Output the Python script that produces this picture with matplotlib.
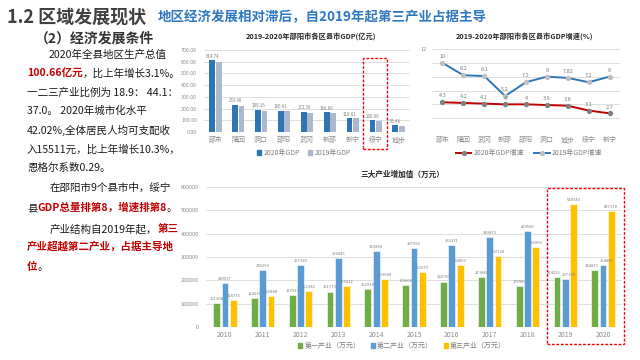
import matplotlib
matplotlib.use("Agg")
import matplotlib.pyplot as plt
from matplotlib.patches import Rectangle, Patch
from matplotlib.lines import Line2D

plt.rcParams['font.family'] = ['Noto Sans CJK SC', 'DejaVu Sans']

# ---------------- data ----------------
gdp_cats = ['邵东', '隆回', '洞口', '邵阳', '武冈', '新邵', '新宁', '绥宁', '城步']
gdp_2020 = [614.74, 233.98, 189.16, 180.61, 172.39, 166.86, 118.61, 100.66, 56.46]
gdp_2019 = [600, 222, 176, 178, 158, 160, 116, 96, 53]
gdp_ticks = [0, 100, 200, 300, 400, 500, 600, 700]

gr_cats = ['邵东', '隆回', '武冈', '新邵', '邵阳', '洞口', '城步', '绥宁', '新宁']
gr_2020 = [4.3, 4.2, 4.1, 4, 4, 3.9, 3.8, 3.1, 2.7]
gr_2019 = [10, 8.2, 8.1, 5.2, 7.2, 8, 7.82, 7.2, 8]
gr_ticks = [0, 2, 4, 6, 8, 10, 12]

years = ['2010', '2011', '2012', '2013', '2014', '2015', '2016', '2017', '2018', '2019', '2020']
ind1 = [101308, 124915, 137917, 151773, 162938, 179608, 194790, 213849, 176983, 214526, 244819]
ind2 = [189037, 245290, 267383, 296445, 323800, 337352, 352171, 383871, 409586, 207178, 264806]
ind3 = [114735, 130888, 152382, 175412, 203588, 233977, 264803, 302728, 343956, 528743, 497378]
ind_ticks = [0, 100000, 200000, 300000, 400000, 500000, 600000]

W, H = 640, 360
fig = plt.figure(figsize=(6.4, 3.6), dpi=100)
fig.patch.set_facecolor('white')


def rect(x0, y0, x1, y1):
    return [x0 / W, 1 - y1 / H, (x1 - x0) / W, (y1 - y0) / H]


def fx(x):
    return x / W


def fy(y):
    return 1 - y / H


GRID = '#d9d9d9'
TICK = '#8c8c8c'
LBL = '#7f7f7f'


def style_axes(ax):
    for s in ax.spines.values():
        s.set_visible(False)
    ax.tick_params(length=0, colors=TICK)
    ax.yaxis.grid(True, color=GRID, lw=0.6)
    ax.set_axisbelow(True)


# ---------------- chart 1: GDP bars ----------------
ax1 = fig.add_axes(rect(204, 50, 410, 132))
style_axes(ax1)
x = range(len(gdp_cats))
ax1.bar([i - 0.14 for i in x], gdp_2020, width=0.25, color='#2E75B6')
ax1.bar([i + 0.14 for i in x], gdp_2019, width=0.25, color='#ADB9CA')
for i, v in enumerate(gdp_2020):
    ax1.text(i - 0.14, v + 12, f'{v:.2f}', ha='center', va='bottom', fontsize=3.2, color=LBL)
ax1.set_xlim(-0.5, len(gdp_cats) - 0.5)
ax1.set_ylim(0, 700)
ax1.set_yticks(gdp_ticks)
ax1.set_yticklabels([f'{t:.2f}' for t in gdp_ticks], fontsize=3.8)
ax1.set_xticks(list(x))
ax1.set_xticklabels(gdp_cats, fontsize=5)
ax1.tick_params(axis='x', pad=3)
ax1.tick_params(axis='y', pad=5)
fig.text(fx(311), fy(36), '2019-2020年邵阳市各区县市GDP(亿元)', ha='center', va='center',
         fontsize=5.2, fontweight='bold', color='#262626')
fig.legend(handles=[Patch(color='#2E75B6', label='2020年GDP'), Patch(color='#ADB9CA', label='2019年GDP')],
           loc='center', bbox_to_anchor=(fx(304), fy(153)), bbox_transform=fig.transFigure,
           ncol=2, frameon=False, fontsize=5, handlelength=0.6, handleheight=0.6,
           handletextpad=0.3, columnspacing=1.2, labelcolor=LBL)

# ---------------- chart 2: growth lines ----------------
ax2 = fig.add_axes(rect(432, 49, 620, 132))
style_axes(ax2)
xs = list(range(len(gr_cats)))
ax2.plot(xs, gr_2020, color='#C00000', lw=1.4, marker='o', markersize=2.8,
         markerfacecolor='#7f7f7f', markeredgecolor='#7f7f7f', zorder=3)
ax2.plot(xs, gr_2019, color='#2E75B6', lw=1.4, marker='o', markersize=2.8,
         markerfacecolor='#bfbfbf', markeredgecolor='#bfbfbf', zorder=3)
for i, v in enumerate(gr_2020):
    ax2.text(i, v + 0.55, f'{v:g}', ha='center', va='bottom', fontsize=4, color=LBL)
for i, v in enumerate(gr_2019):
    ax2.text(i, v + 0.55, f'{v:g}', ha='center', va='bottom', fontsize=4, color=LBL)
ax2.set_xlim(-0.5, len(gr_cats) - 0.5)
ax2.set_ylim(0, 12)
ax2.set_yticks(gr_ticks)
ax2.set_yticklabels(['' if t != 12 else '12' for t in gr_ticks], fontsize=4)
ax2.set_xticks(xs)
ax2.set_xticklabels(gr_cats, fontsize=5)
ax2.tick_params(axis='x', pad=3)
fig.text(fx(524), fy(36), '2019-2020年邵阳市各区县市GDP增速(%)', ha='center', va='center',
         fontsize=5.2, fontweight='bold', color='#262626')
fig.legend(handles=[Line2D([0], [0], color='#C00000', lw=1.4, marker='o', markersize=2.8,
                           markerfacecolor='#7f7f7f', markeredgecolor='#7f7f7f', label='2020年GDP增速'),
                    Line2D([0], [0], color='#2E75B6', lw=1.4, marker='o', markersize=2.8,
                           markerfacecolor='#bfbfbf', markeredgecolor='#bfbfbf', label='2019年GDP增速')],
           loc='center', bbox_to_anchor=(fx(529), fy(153)), bbox_transform=fig.transFigure,
           ncol=2, frameon=False, fontsize=5, handlelength=2.2,
           handletextpad=0.3, columnspacing=1.5, labelcolor=LBL)

# ---------------- chart 3: industry bars ----------------
ax3 = fig.add_axes(rect(206, 187, 622, 327))
style_axes(ax3)
yx = list(range(len(years)))
off = 0.22
bw = 0.18
ax3.bar([i - off for i in yx], ind1, width=bw, color='#70AD47', edgecolor='white', lw=0.4)
ax3.bar(yx, ind2, width=bw, color='#5B9BD5', edgecolor='white', lw=0.4)
ax3.bar([i + off for i in yx], ind3, width=bw, color='#FFC000', edgecolor='white', lw=0.4)
for series, o, ha in ((ind1, -off, 'right'), (ind2, 0, 'left'), (ind3, off, 'center')):
    for i, v in enumerate(series):
        # labels of close-valued neighbour bars are spread apart as in the reference
        a = ha if abs(ind1[i] - ind2[i]) < 20000 else 'center'
        if series is ind3:
            a = 'center'
        xo = {'right': 0.1, 'left': -0.1, 'center': 0}[a]
        ax3.text(i + o + xo, v + 9000, f'{v}', ha=a, va='bottom', fontsize=3, color=LBL)
ax3.set_xlim(-0.5, len(years) - 0.5)
ax3.set_ylim(0, 600000)
ax3.set_yticks(ind_ticks)
ax3.set_yticklabels([str(t) for t in ind_ticks], fontsize=4)
ax3.set_xticks(yx)
ax3.set_xticklabels(years, fontsize=5)
ax3.tick_params(axis='x', pad=3)
ax3.tick_params(axis='y', pad=5)
fig.text(fx(402), fy(174), '三大产业增加值（万元）', ha='center', va='center',
         fontsize=5.5, fontweight='bold', color='#262626')
fig.legend(handles=[Patch(color='#70AD47', label='第一产业（万元）'),
                    Patch(color='#5B9BD5', label='第二产业（万元）'),
                    Patch(color='#FFC000', label='第三产业（万元）')],
           loc='center', bbox_to_anchor=(fx(402), fy(346)), bbox_transform=fig.transFigure,
           ncol=3, frameon=False, fontsize=5, handlelength=0.6, handleheight=0.6,
           handletextpad=0.3, columnspacing=1.5, labelcolor=LBL)

# ---------------- red dashed highlight boxes ----------------
for (x0, y0, x1, y1) in ((363, 58, 387, 149), (547, 188, 624, 344)):
    fig.patches.append(Rectangle((fx(x0), fy(y1)), (x1 - x0) / W, (y1 - y0) / H,
                                 transform=fig.transFigure, fill=False, edgecolor='#FF0000',
                                 lw=1.0, linestyle=(0, (2, 1.2)), zorder=10))

# ---------------- left text ----------------
fig.text(fx(7), fy(17), '1.2 区域发展现状', ha='left', va='center', fontsize=13,
         fontweight='bold', color='#404040')
fig.text(fx(158), fy(17), '地区经济发展相对滞后，自2019年起第三产业占据主导', ha='left', va='center',
         fontsize=9.7, fontweight='bold', color='#2E78C2')
fig.text(fx(35), fy(39), '（2）经济发展条件', ha='left', va='center', fontsize=10,
         fontweight='bold', color='#333333')

renderer = fig.canvas.get_renderer()
BLK = '#1a1a1a'
RED = '#C00000'
FS = 7.6


def line(x0, y, segs):
    xpix = x0
    for s, c, b in segs:
        t = fig.text(fx(xpix), fy(y), s, ha='left', va='center', fontsize=FS, color=c,
                     fontweight='bold' if b else 'normal')
        bb = t.get_window_extent(renderer=renderer)
        xpix = bb.x1


lines = [
    (49, 55, [('2020年全县地区生产总值', BLK, False)]),
    (27, 74, [('100.66亿元', RED, True), ('，比上年增长3.1%。', BLK, False)]),
    (27, 93, [('一二三产业比例为 18.9： 44.1：', BLK, False)]),
    (27, 111, [('37.0。 2020年城市化水平', BLK, False)]),
    (27, 130, [('42.02%,全体居民人均可支配收', BLK, False)]),
    (27, 150, [('入15511元，比上年增长10.3%，', BLK, False)]),
    (27, 168, [('恩格尔系数0.29。', BLK, False)]),
    (50, 188, [('在邵阳市9个县市中，绥宁', BLK, False)]),
    (27, 208, [('县', BLK, False), ('GDP总量排第8，增速排第8', RED, True), ('。', BLK, False)]),
    (50, 229, [('产业结构自2019年起，', BLK, False), ('第三', RED, True)]),
    (27, 247, [('产业超越第二产业，占据主导地', RED, True)]),
    (27, 267, [('位', RED, True), ('。', BLK, False)]),
]
for x0, y, segs in lines:
    line(x0, y, segs)

fig.savefig('out.png', dpi=100)
